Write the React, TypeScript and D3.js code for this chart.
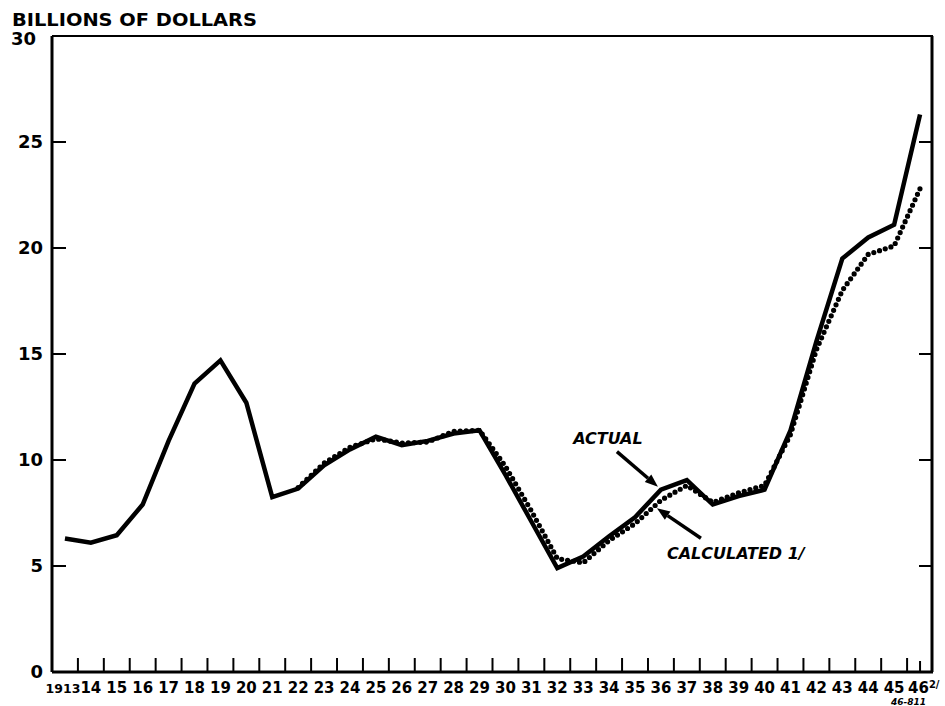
import React from "react";
import * as d3 from "d3";

const years: number[] = d3.range(1913, 1947);
const yearLabels: string[] = [
  "1913", "14", "15", "16", "17", "18", "19", "20", "21", "22", "23", "24", "25", "26", "27", "28", "29",
  "30", "31", "32", "33", "34", "35", "36", "37", "38", "39", "40", "41", "42", "43", "44", "45", "46",
];
const actualValues: number[] = [
  6.3, 6.1, 6.45, 7.9, 10.9, 13.6, 14.7, 12.7, 8.25, 8.65, 9.75, 10.5, 11.1, 10.7, 10.9, 11.25, 11.4,
  9.3, 7.1, 4.9, 5.45, 6.4, 7.3, 8.6, 9.05, 7.9, 8.3, 8.6, 11.4, 15.6, 19.5, 20.5, 21.1, 26.3,
];
const calcYears: number[] = d3.range(1922, 1947);
const calcValues: number[] = [
  8.7, 9.85, 10.6, 11.0, 10.8, 10.85, 11.35, 11.4, 9.7, 7.6, 5.35, 5.15, 6.2, 7.0, 8.1, 8.8, 8.0, 8.45,
  8.8, 11.2, 15.2, 18.0, 19.7, 20.1, 22.8,
];
const yTicks: number[] = [0, 5, 10, 15, 20, 25, 30];

const W = 945;
const H = 706;
const LEFT = 52;
const RIGHT = 933;
const TOP = 36;
const BOTTOM = 672;
const FONT = "'DejaVu Sans', sans-serif";

export default function App() {
  const x = d3.scaleBand<number>().domain(years).range([LEFT, RIGHT]).padding(0);
  const bw = x.bandwidth();
  const cx = (yr: number) => (x(yr) as number) + bw / 2;
  const y = d3.scaleLinear().domain([0, 30]).range([BOTTOM, TOP]);

  const actualPts: [number, number][] = years.map((yr, i) => [cx(yr), y(actualValues[i])]);
  const calcPts: [number, number][] = calcYears.map((yr, i) => [cx(yr), y(calcValues[i])]);
  const line = d3.line();

  // annotation anchors tied to the 1936 data points
  const aIdx = years.indexOf(1936);
  const cIdx = calcYears.indexOf(1936);
  const ax = cx(1936);
  const ay = y(actualValues[aIdx]);
  const cy = y(calcValues[cIdx]);

  const arrow = (x1: number, y1: number, x2: number, y2: number) => {
    const ang = Math.atan2(y2 - y1, x2 - x1);
    const L = 13;
    const Wd = 5;
    const bx = x2 - L * Math.cos(ang);
    const by = y2 - L * Math.sin(ang);
    const px = -Math.sin(ang) * Wd;
    const py = Math.cos(ang) * Wd;
    return (
      <g>
        <line x1={x1} y1={y1} x2={bx} y2={by} stroke="#000" strokeWidth={3.5} />
        <path d={`M${x2},${y2}L${bx + px},${by + py}L${bx - px},${by - py}Z`} fill="#000" />
      </g>
    );
  };

  const boundaries = years.map((yr) => x(yr) as number).slice(1);

  return (
    <svg width={W} height={H} style={{ position: "absolute", left: 0, top: 0, background: "#fff" }}>
      <rect x={0} y={0} width={W} height={H} fill="#fff" />
      <text x={12} y={26} fontFamily={FONT} fontWeight="bold" fontSize={17} textLength={245} lengthAdjust="spacingAndGlyphs">
        BILLIONS OF DOLLARS
      </text>

      {/* frame */}
      <line x1={LEFT} y1={TOP} x2={RIGHT} y2={TOP} stroke="#000" strokeWidth={2} />
      <line x1={LEFT} y1={TOP} x2={LEFT} y2={BOTTOM} stroke="#000" strokeWidth={3} />
      <line x1={RIGHT - 1} y1={TOP} x2={RIGHT - 1} y2={BOTTOM} stroke="#000" strokeWidth={3} />
      <line x1={LEFT} y1={BOTTOM} x2={RIGHT} y2={BOTTOM} stroke="#000" strokeWidth={3} />

      {/* y ticks and labels */}
      {yTicks.map((t) => (
        <g key={t}>
          {t > 0 && t < 30 && (
            <>
              <line x1={LEFT} y1={y(t)} x2={LEFT + 14} y2={y(t)} stroke="#000" strokeWidth={2} />
              <line x1={RIGHT - 14} y1={y(t)} x2={RIGHT} y2={y(t)} stroke="#000" strokeWidth={2} />
            </>
          )}
          <text
            x={t === 30 ? 36 : 43}
            y={y(t) + (t === 30 ? 2.5 : 0)}
            dy="0.36em"
            textAnchor="end"
            fontFamily={FONT}
            fontWeight="bold"
            fontSize={18}
          >
            {t}
          </text>
        </g>
      ))}

      {/* x ticks */}
      {boundaries.map((b, i) => (
        <line key={i} x1={b} y1={BOTTOM} x2={b} y2={BOTTOM - 14} stroke="#000" strokeWidth={2} />
      ))}
      <line x1={cx(1946)} y1={BOTTOM} x2={cx(1946)} y2={BOTTOM - 11} stroke="#000" strokeWidth={2} />

      {/* x labels */}
      {years.map((yr, i) => {
        const lab = yearLabels[i];
        if (yr === 1946) {
          return (
            <text key={yr} x={cx(yr) - 12} y={693} fontFamily={FONT} fontWeight="bold" fontSize={15}>
              {lab}
              <tspan fontSize={10} dy={-5}>2/</tspan>
            </text>
          );
        }
        const long = lab.length > 2;
        return (
          <text
            key={yr}
            x={cx(yr) - (long ? 2 : 0)}
            y={693}
            textAnchor="middle"
            fontFamily={FONT}
            fontWeight="bold"
            fontSize={long ? 12.5 : 15}
          >
            {lab}
          </text>
        );
      })}
      <text x={cx(1946) + 6} y={705} textAnchor="end" fontFamily={FONT} fontWeight="bold" fontStyle="italic" fontSize={9}>
        46-811
      </text>

      {/* series */}
      <path d={line(actualPts) || ""} fill="none" stroke="#000" strokeWidth={4.5} strokeLinejoin="miter" />
      <path
        d={line(calcPts) || ""}
        fill="none"
        stroke="#000"
        strokeWidth={5.2}
        strokeLinecap="round"
        strokeDasharray="0 6"
      />

      {/* annotations */}
      <text x={ax - 53} y={ay - 46} textAnchor="middle" fontFamily={FONT} fontWeight="bold" fontStyle="italic" fontSize={16}>
        ACTUAL
      </text>
      {arrow(ax - 44, ay - 38, ax - 3, ay - 3)}
      <text x={ax + 6} y={cy + 59} fontFamily={FONT} fontWeight="bold" fontStyle="italic" fontSize={16}>
        CALCULATED 1/
      </text>
      {arrow(ax + 40, cy + 38, ax - 4, cy + 8)}
    </svg>
  );
}
